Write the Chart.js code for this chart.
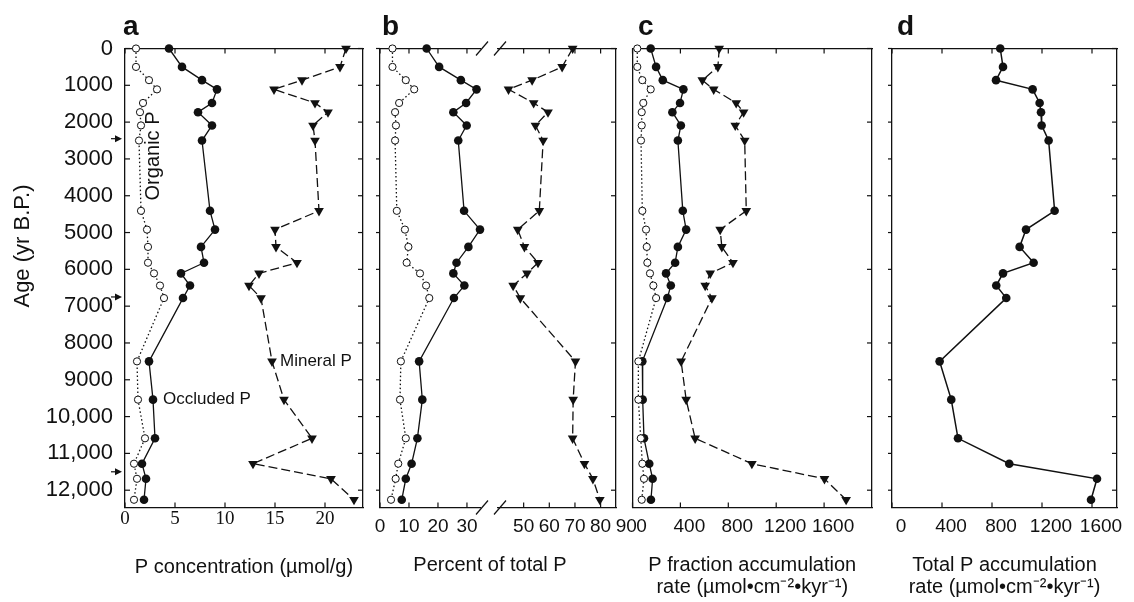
<!DOCTYPE html>
<html>
<head>
<meta charset="utf-8">
<title>Soil phosphorus fractions through the Holocene</title>
<script src="https://cdn.jsdelivr.net/npm/chart.js@4.4.1/dist/chart.umd.min.js"></script>
<style>
  html, body { margin: 0; padding: 0; background: #fff; }
  #wrap { position: relative; width: 1134px; height: 602px; }
  #wrap > div { position: absolute; left: 0; top: 0; width: 1134px; height: 602px; }
</style>
</head>
<body>
<div id="wrap">
  <div><canvas id="panelA"></canvas></div>
  <div><canvas id="panelB"></canvas></div>
  <div><canvas id="panelC"></canvas></div>
  <div><canvas id="panelD"></canvas></div>
</div>
<script>
// sample ages (yr B.P.), the same samples in every panel
const AGES = [0, 500, 860, 1110, 1480, 1730, 2090, 2500, 4410, 4920, 5390, 5820, 6110, 6440, 6780, 8500, 9540, 10590, 11280, 11690, 12260];

// a: P concentration (umol/g)
const A_ORGANIC = [1.1, 1.1, 2.4, 3.2, 1.8, 1.5, 1.6, 1.4, 1.6, 2.2, 2.3, 2.3, 2.9, 3.5, 3.9, 1.2, 1.3, 2.0, 0.9, 1.2, 0.9];
const A_OCCLUDED = [4.4, 5.7, 7.7, 9.2, 8.7, 7.3, 8.7, 7.7, 8.5, 9.0, 7.6, 7.9, 5.6, 6.5, 5.8, 2.4, 2.8, 3.0, 1.7, 2.1, 1.9];
const A_MINERAL = [22.1, 21.5, 17.7, 14.9, 19.0, 20.3, 18.8, 19.0, 19.4, 15.0, 15.1, 17.2, 13.4, 12.4, 13.6, 14.7, 15.9, 18.7, 12.8, 20.6, 22.9];

// b: percent of total P
const B_ORGANIC = [4.3, 4.3, 8.9, 11.8, 6.6, 5.2, 5.5, 5.2, 5.8, 8.6, 9.8, 9.2, 13.8, 15.9, 17.0, 7.2, 6.9, 8.9, 6.3, 5.4, 3.8];
const B_OCCLUDED = [16.1, 20.4, 27.9, 33.3, 29.7, 25.3, 29.9, 27.0, 29.0, 34.5, 30.5, 26.4, 25.3, 29.1, 25.5, 13.5, 14.6, 12.9, 10.9, 8.9, 7.5];
const B_MINERAL = [69.1, 65.0, 53.3, 44.1, 53.9, 59.5, 54.6, 57.6, 56.1, 47.7, 50.3, 55.6, 51.3, 45.9, 48.7, 70.2, 69.3, 69.1, 73.7, 77.0, 79.7];

// c: P fraction accumulation rate
const C_ORGANIC = [40, 40, 82, 152, 90, 77, 77, 71, 82, 113, 119, 124, 146, 174, 197, 49, 49, 69, 82, 96, 77];
const C_OCCLUDED = [152, 197, 253, 425, 397, 333, 404, 379, 420, 448, 379, 356, 280, 320, 291, 82, 85, 96, 140, 168, 154];
const C_MINERAL = [724, 713, 583, 678, 866, 928, 858, 937, 950, 732, 746, 839, 649, 607, 663, 406, 448, 523, 997, 1603, 1784];

// d: total P accumulation rate
const D_TOTAL = [866, 888, 832, 1125, 1181, 1192, 1197, 1253, 1301, 1072, 1021, 1133, 888, 834, 914, 381, 474, 528, 938, 1640, 1592];

// tick values
const AGE_TICKS = [0, 1000, 2000, 3000, 4000, 5000, 6000, 7000, 8000, 9000, 10000, 11000, 12000];
const AGE_TICKS_2K = [0, 2000, 4000, 6000, 8000, 10000, 12000];
const A_TICKS = [0, 5, 10, 15, 20];
const B_TICKS_LEFT = [0, 10, 20, 30];
const B_TICKS_RIGHT = [50, 60, 70, 80, 90];
const RATE_TICKS = [0, 400, 800, 1200, 1600];
const ARROW_AGES = [2450, 6750, 11500];

const AGE_MAX = 12470;
const FONT = "'Liberation Sans', Arial, Helvetica, sans-serif";
const SERIF = "'Liberation Serif', 'Times New Roman', serif";
const INK = '#111';
const TOP = 48.5;      // top edge of every plot frame
const BAND = 94.5;     // height of the x-axis band under each frame

Chart.defaults.font.family = FONT;
Chart.defaults.color = INK;

const pts = vals => vals.map((v, i) => ({ x: v, y: AGES[i] }));

function organic(vals, xAxisID = 'x') {
  return {
    label: 'Organic P', data: pts(vals), xAxisID, yAxisID: 'y', showLine: true, clip: false,
    borderColor: INK, borderWidth: 1.3, borderDash: [1.5, 2.5],
    pointStyle: 'circle', pointRadius: 3.6, pointBackgroundColor: '#fff',
    pointBorderColor: INK, pointBorderWidth: 1
  };
}
function occluded(vals, xAxisID = 'x', label = 'Occluded P') {
  return {
    label, data: pts(vals), xAxisID, yAxisID: 'y', showLine: true, clip: false,
    borderColor: INK, borderWidth: 1.3,
    pointStyle: 'circle', pointRadius: 4.3, pointBackgroundColor: INK,
    pointBorderColor: INK, pointBorderWidth: 0
  };
}
function mineral(vals, xAxisID = 'x') {
  return {
    label: 'Mineral P', data: pts(vals), xAxisID, yAxisID: 'y', showLine: true, clip: false,
    borderColor: INK, borderWidth: 1.3, borderDash: [9, 4],
    pointStyle: 'triangle', pointRotation: 180, pointRadius: 5.6,
    pointBackgroundColor: INK, pointBorderColor: INK, pointBorderWidth: 0
  };
}

function valueAxis(position, min, max, ticks, size, extra) {
  const horizontal = position === 'top' || position === 'bottom';
  return Object.assign({
    type: 'linear', position, min, max,
    grid: { display: false, drawTicks: false },
    border: { display: true, color: INK, width: 1.3 },
    ticks: { display: false },
    afterBuildTicks: s => { s.ticks = ticks.map(v => ({ value: v })); },
    afterFit: s => { if (horizontal) s.height = size; else s.width = size; }
  }, extra);
}
function ageAxis(position, ticks, width, extra) {
  return valueAxis(position, 0, AGE_MAX, ticks, width, Object.assign({ reverse: true }, extra));
}
function gapAxis(position, stackWeight, weight) {
  return {
    type: 'linear', position, min: 0, max: 1, stack: 'seg', stackWeight, weight,
    grid: { display: false, drawTicks: false },
    border: { display: false },
    ticks: { display: false },
    afterFit: s => { s.height = position === 'bottom' ? BAND : 0; }
  };
}
function labelTicks(font, padding, labelOffset = 0) {
  return {
    display: true, color: INK, font, padding, labelOffset,
    maxRotation: 0, minRotation: 0, autoSkip: false,
    callback: v => String(v)
  };
}
function axisTitle(text, bottomPad) {
  return { display: true, text, color: INK, font: { family: FONT, size: 20, lineHeight: 1.1 }, padding: { top: 0, bottom: bottomPad } };
}

// frame ticks, break marks, arrows and text labels
function decor(spec) {
  return {
    id: 'decor',
    afterDraw(chart) {
      const ctx = chart.ctx;
      const area = chart.chartArea;
      ctx.save();
      ctx.strokeStyle = INK;
      ctx.fillStyle = INK;
      ctx.lineWidth = 1.2;

      // positive length points into the frame, negative points out
      Object.entries(spec.ticks || {}).forEach(([id, len]) => {
        const s = chart.scales[id];
        s.ticks.forEach(t => {
          if (t.value < s.min || t.value > s.max) return;
          const p = s.getPixelForValue(t.value);
          ctx.beginPath();
          if (s.position === 'left') { ctx.moveTo(s.right, p); ctx.lineTo(s.right + len, p); }
          else if (s.position === 'right') { ctx.moveTo(s.left, p); ctx.lineTo(s.left - len, p); }
          else if (s.position === 'bottom') { ctx.moveTo(p, s.top); ctx.lineTo(p, s.top - len); }
          else { ctx.moveTo(p, s.bottom); ctx.lineTo(p, s.bottom + len); }
          ctx.stroke();
        });
      });

      if (spec.breakAxis) {
        const g = chart.scales[spec.breakAxis];
        [g.left + 2, g.right + 2].forEach(x => {
          [area.top, area.bottom].forEach(y => {
            ctx.beginPath();
            ctx.moveTo(x - 6, y + 7);
            ctx.lineTo(x + 6, y - 7);
            ctx.stroke();
          });
        });
      }

      (spec.arrows || []).forEach(age => {
        const y = chart.scales.y.getPixelForValue(age);
        const x = area.left - 3;
        ctx.beginPath();
        ctx.moveTo(x - 11, y);
        ctx.lineTo(x - 5, y);
        ctx.stroke();
        ctx.beginPath();
        ctx.moveTo(x, y);
        ctx.lineTo(x - 7, y - 3.5);
        ctx.lineTo(x - 7, y + 3.5);
        ctx.closePath();
        ctx.fill();
      });

      (spec.notes || []).forEach(n => {
        const x = n.px !== undefined ? n.px : chart.scales[n.xs || 'x'].getPixelForValue(n.x);
        const y = n.py !== undefined ? n.py : chart.scales.y.getPixelForValue(n.y);
        ctx.save();
        ctx.translate(x, y);
        if (n.rot) ctx.rotate(n.rot * Math.PI / 180);
        ctx.font = `${n.weight || 'normal'} ${n.size || 17}px ${FONT}`;
        ctx.textAlign = n.align || 'center';
        ctx.textBaseline = n.baseline || 'middle';
        ctx.fillText(n.text, 0, 0);
        ctx.restore();
      });
      ctx.restore();
    }
  };
}

function makePanel(id, padding, scales, datasets, spec) {
  return new Chart(document.getElementById(id), {
    type: 'scatter',
    data: { datasets },
    options: {
      responsive: true,
      maintainAspectRatio: false,
      animation: false,
      events: [],
      layout: { padding: Object.assign({ top: TOP, bottom: 0 }, padding) },
      plugins: { legend: { display: false }, tooltip: { enabled: false } },
      scales
    },
    plugins: [decor(spec)]
  });
}

const ageLabel = v => v >= 10000 ? v.toLocaleString('en-US') : String(v);
const letter = (text, px) => ({ text, px, py: 35, size: 28, weight: 'bold', align: 'left', baseline: 'alphabetic' });

// panel a
makePanel('panelA', { left: 0, right: 1134 - 363 }, {
  x: valueAxis('bottom', 0, 23.8, A_TICKS, BAND, {
    ticks: labelTicks({ family: SERIF, size: 19 }, 0),
    title: axisTitle('P concentration (µmol/g)', 24)
  }),
  xt: valueAxis('top', 0, 23.8, A_TICKS, 0),
  y: ageAxis('left', AGE_TICKS, 125, {
    ticks: Object.assign(labelTicks({ family: FONT, size: 22 }, 12), { callback: ageLabel })
  }),
  yR: ageAxis('right', AGE_TICKS, 0)
}, [organic(A_ORGANIC), occluded(A_OCCLUDED), mineral(A_MINERAL)], {
  ticks: { x: 5, xt: 5, y: 5, yR: 5 },
  arrows: ARROW_AGES,
  notes: [
    letter('a', 123),
    { text: 'Age (yr B.P.)', px: 23, py: 246, rot: -90, size: 22 },
    { text: 'Organic P', x: 2.8, y: 2920, rot: -90, size: 20 },
    { text: 'Occluded P', x: 3.8, y: 9540, align: 'left', size: 17 },
    { text: 'Mineral P', x: 15.5, y: 8500, align: 'left', size: 17 }
  ]
});

// panel b: broken x axis built from two stacked segments and a gap
const bTickFont = { family: FONT, size: 19 };
makePanel('panelB', { left: 380, right: 1134 - 616 }, {
  x: valueAxis('bottom', 0, 34.5, B_TICKS_LEFT, BAND, { stack: 'seg', stackWeight: 100, weight: 1, ticks: labelTicks(bTickFont, 8) }),
  xg: gapAxis('bottom', 18, 2),
  x2: valueAxis('bottom', 40, 86, B_TICKS_RIGHT, BAND, { stack: 'seg', stackWeight: 118, weight: 3, ticks: labelTicks(bTickFont, 8) }),
  xt: valueAxis('top', 0, 34.5, B_TICKS_LEFT, 0, { stack: 'seg', stackWeight: 100, weight: 3 }),
  xgt: gapAxis('top', 18, 2),
  x2t: valueAxis('top', 40, 86, B_TICKS_RIGHT, 0, { stack: 'seg', stackWeight: 118, weight: 1 }),
  y: ageAxis('left', AGE_TICKS, 0),
  yR: ageAxis('right', AGE_TICKS_2K, 0)
}, [organic(B_ORGANIC), occluded(B_OCCLUDED), mineral(B_MINERAL, 'x2')], {
  ticks: { x: 5, x2: 5, xt: 5, x2t: 5, y: -4, yR: 5 },
  breakAxis: 'xg',
  notes: [
    letter('b', 382),
    { text: 'Percent of total P', px: 490, py: 565, size: 20 }
  ]
});

// panel c
const rateTicks = labelTicks({ family: FONT, size: 19 }, 8, 9);
const rateTitle = ['rate (µmol•cm⁻²•kyr⁻¹)'];
makePanel('panelC', { left: 632.5, right: 1134 - 872 }, {
  x: valueAxis('bottom', 0, 2000, RATE_TICKS, BAND, {
    ticks: rateTicks,
    title: axisTitle(['P fraction accumulation'].concat(rateTitle), 4)
  }),
  xt: valueAxis('top', 0, 2000, RATE_TICKS, 0),
  y: ageAxis('left', AGE_TICKS, 0),
  yR: ageAxis('right', AGE_TICKS_2K, 0)
}, [organic(C_ORGANIC), occluded(C_OCCLUDED), mineral(C_MINERAL)], {
  ticks: { x: 5, xt: 5, yR: 5 },
  notes: [letter('c', 638)]
});

// panel d
makePanel('panelD', { left: 892, right: 1134 - 1117 }, {
  x: valueAxis('bottom', 0, 1800, RATE_TICKS, BAND, {
    ticks: rateTicks,
    title: axisTitle(['Total P accumulation'].concat(rateTitle), 4)
  }),
  xt: valueAxis('top', 0, 1800, RATE_TICKS, 0),
  y: ageAxis('left', AGE_TICKS, 0),
  yR: ageAxis('right', AGE_TICKS, 0)
}, [Object.assign(occluded(D_TOTAL, 'x', 'Total P'), { borderWidth: 1.5 })], {
  ticks: { x: 5, xt: 5, y: -4, yR: 5 },
  notes: [letter('d', 897)]
});
</script>
</body>
</html>
